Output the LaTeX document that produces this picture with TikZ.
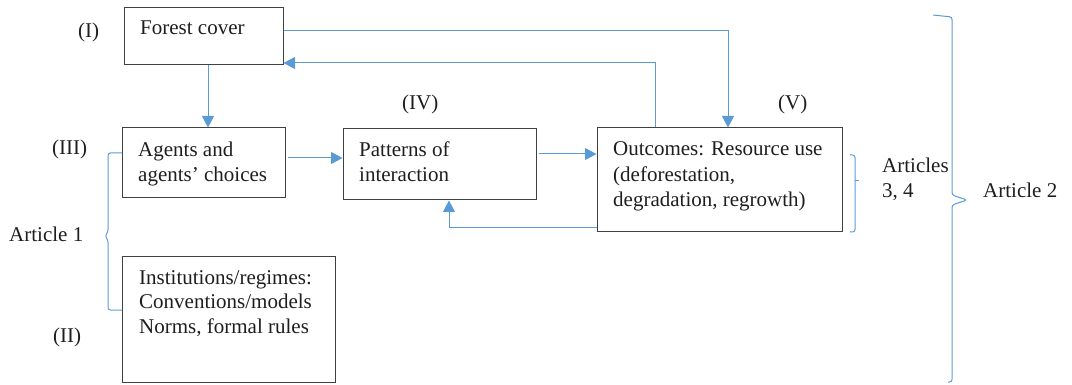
\documentclass[tikz,border=0pt]{standalone}
\usepackage{fontspec}
\setmainfont{Liberation Serif}
\usetikzlibrary{arrows.meta}
\definecolor{linkblue}{HTML}{5B9BD5}
\definecolor{boxline}{HTML}{404040}
\definecolor{ink}{HTML}{1E1E1E}
\begin{document}
\begin{tikzpicture}[x=1pt,y=-1pt,
  box/.style={draw=boxline,line width=1pt,rectangle,inner sep=0pt},
  txt/.style={anchor=base west,inner sep=0pt,text=ink,font=\fontsize{21}{25}\selectfont},
  arr/.style={draw=linkblue,line width=1pt,-{Triangle[length=11.5pt,width=12pt]}},
  brace/.style={draw=linkblue,line width=1pt,rounded corners=2.5pt}]
\useasboundingbox (0,0) rectangle (1072,385);

% boxes
\node[box,minimum width=159pt,minimum height=57pt] (fc) at (203.5,36.5) {};
\node[box,minimum width=163pt,minimum height=70pt] (ag) at (203.5,163) {};
\node[box,minimum width=193pt,minimum height=71pt] (pt) at (439.5,164.5) {};
\node[box,minimum width=245pt,minimum height=104pt] (oc) at (719.5,180) {};
\node[box,minimum width=213pt,minimum height=126pt] (in) at (228.5,319) {};

% box texts
\node[txt] (fct) at (140,35) {Forest cover};
\node[txt] (agt1) at (138,157) {Agents and};
\node[txt] (agt2) at (138,182) {agents’ choices};
\node[txt] (ptt1) at (359,157) {Patterns of};
\node[txt] (ptt2) at (359,182) {interaction};
\node[txt] (oct1) at (613,156) {Outcomes: Resource use};
\node[txt] (oct2) at (613,181.5) {(deforestation,};
\node[txt] (oct3) at (613,207) {degradation, regrowth)};
\node[txt] (int1) at (139,284) {Institutions/regimes:};
\node[txt] (int2) at (139,308.5) {Conventions/models};
\node[txt] (int3) at (139,333) {Norms, formal rules};

% roman numerals
\node[txt] (l1) at (78,38) {(I)};
\node[txt] (l2) at (53,342) {(II)};
\node[txt] (l3) at (52,155) {(III)};
\node[txt] (l4) at (402,110) {(IV)};
\node[txt] (l5) at (778,110) {(V)};

% article labels
\node[txt] (a1) at (9,242) {Article 1};
\node[txt] (a34a) at (882,173) {Articles};
\node[txt] (a34b) at (882,198) {3, 4};
\node[txt] (a2) at (983,197) {Article 2};

% connectors
\draw[arr] ([xshift=4.5pt]fc.south) -- ([xshift=4.5pt]fc.south |- ag.north);
\draw[arr] ([yshift=5.5pt]fc.east) -| ([xshift=8.5pt]oc.north);
\draw[arr] ([xshift=-64.5pt]oc.north) |- ([yshift=-26.5pt]fc.east);
\draw[arr] ([yshift=5pt,xshift=2pt]ag.east) -- ([yshift=5pt]ag.east -| pt.west);
\draw[arr] ([yshift=10.5pt,xshift=2pt]pt.east) -- ([yshift=10.5pt]pt.east -| oc.west);
\draw[arr] ([yshift=-48pt]oc.west) -| ([xshift=9.5pt]pt.south);

% braces
\coordinate (b1t) at (122,153);
\coordinate (b1b) at (122,310);
\draw[brace] (b1t) -- (108,153) -- (108,232) -- (105,236) -- (108,240) -- (108,310) -- (b1b);
\coordinate (b2t) at (850,155);
\coordinate (b2b) at (850,232);
\draw[brace] (b2t) -- (855,155) -- (855,232) -- (b2b);
\draw[draw=linkblue,line width=1pt] (855,181) -- (859,181);
\coordinate (b3t) at (933,15);
\coordinate (b3b) at (948,382);
\draw[brace] (b3t) -- (952,17) -- (952,195) -- (967,200) -- (952,205) -- (952,382) -- (b3b);
\end{tikzpicture}
\end{document}
